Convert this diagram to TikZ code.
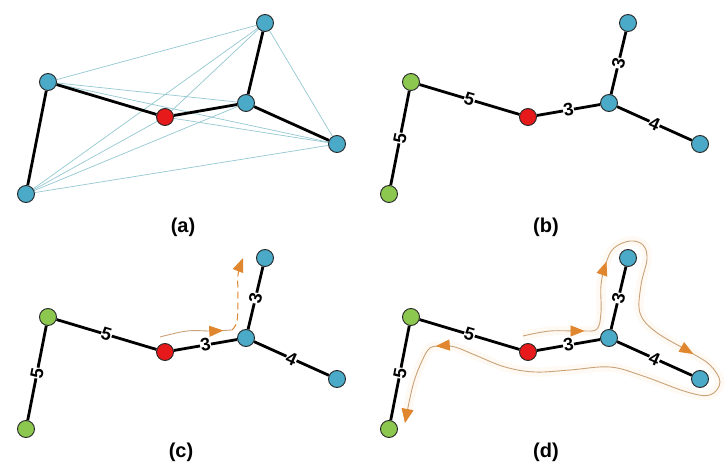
\documentclass[tikz,border=0pt]{standalone}
\usepackage{fontspec}
\setmainfont{Liberation Sans}
\usetikzlibrary{arrows.meta,decorations.markings}
\pgfdeclarelayer{bg}
\pgfsetlayers{bg,main}
\definecolor{nblue}{HTML}{4AAAC8}
\definecolor{ngreen}{HTML}{8CC850}
\definecolor{nred}{HTML}{E61A1A}
\definecolor{faint}{HTML}{94C8D2}
\definecolor{arr}{HTML}{E0862E}
\definecolor{trail}{HTML}{C9A27A}
\definecolor{halo}{HTML}{FEF9F2}
\tikzset{arrtip/.tip={Triangle[length=14pt,width=11pt,color=arr]}}
\newcommand\mknodes[2]{%
  \node[bv] (#1T) at (265,23) {};
  \node[#2] (#1L) at (48,82) {};
  \node[rv] (#1R) at (165,117) {};
  \node[bv] (#1M) at (246,103) {};
  \node[bv] (#1F) at (337,144) {};
  \node[#2] (#1B) at (26,194) {};}
\newcommand\wtree[1]{%
  \draw[tree] (#1L) -- node[wt]{5} (#1R);
  \draw[tree] (#1L) -- node[wt]{5} (#1B);
  \draw[tree] (#1R) -- node[wt]{3} (#1M);
  \draw[tree] (#1M) -- node[wt]{3} (#1T);
  \draw[tree] (#1M) -- node[wt]{4} (#1F);}
\begin{document}
\begin{tikzpicture}[x=1pt,y=-1pt,
  vtx/.style={circle,draw=black!85,line width=0.9pt,minimum size=17pt,inner sep=0pt},
  bv/.style={vtx,fill=nblue},
  gv/.style={vtx,fill=ngreen},
  rv/.style={vtx,fill=nred},
  tree/.style={line width=2.8pt,black},
  faintedge/.style={faint,line width=0.7pt},
  wt/.style={font=\fontsize{18}{18}\selectfont\bfseries,fill=white,inner sep=0.4pt,sloped,midway},
  captxt/.style={font=\fontsize{20}{20}\selectfont\bfseries},
  trailline/.style={trail,line width=0.9pt}]
\useasboundingbox (0,0) rectangle (726,473);
\begin{pgfonlayer}{bg}
  \fill[white] (0,0) rectangle (726,473);
\end{pgfonlayer}

% ---------- (a)
\mknodes{a}{bv}
\begin{pgfonlayer}{bg}
  \foreach \u/\v in {T/L,T/R,T/B,T/F,L/M,L/F,R/B,R/F,M/B,F/B}
    \draw[faintedge] (a\u) -- (a\v);
\end{pgfonlayer}
\draw[tree] (aL) -- (aR);
\draw[tree] (aL) -- (aB);
\draw[tree] (aR) -- (aM);
\draw[tree] (aM) -- (aT);
\draw[tree] (aM) -- (aF);
\node[captxt] (capa) at (183,227) {(a)};

% ---------- (b)
\begin{scope}[shift={(363,0)}]
  \mknodes{b}{gv}
  \wtree{b}
  \node[captxt] (capb) at (183,227) {(b)};
\end{scope}

% ---------- (c)
\begin{scope}[shift={(0,235)}]
  \mknodes{c}{gv}
  \wtree{c}
  \node[captxt] (capc) at (181,217) {(c)};
  \coordinate (cs) at (160,102);
  \coordinate (cm) at (232,95);
  \coordinate (ce) at (243,23);
  \draw[trailline,postaction={decorate},
    decoration={markings,mark=at position 64pt with {\arrow{arrtip}}}]
    plot[smooth,tension=0.6] coordinates {(cs) (187,96) (212,96) (cm)};
  \draw[arr,line width=1pt,dash pattern=on 7pt off 4pt,-{arrtip}]
    plot[smooth,tension=0.6] coordinates {(cm) (237,86) (238,60) (238,40) (ce)};
\end{scope}

% ---------- (d)
\begin{scope}[shift={(363,235)}]
  \mknodes{d}{gv}
  \wtree{d}
  \node[captxt] (capd) at (183,217) {(d)};
  \coordinate (ds) at (160,101);
  \coordinate (de) at (42,188);
  \begin{pgfonlayer}{bg}
  \draw[trailline,-{arrtip},
    preaction={draw=halo,line width=9pt},
    postaction={decorate},
    decoration={markings,
      mark=at position 62pt with {\arrow{arrtip}},
      mark=at position 144pt with {\arrow{arrtip}},
      mark=at position 330pt with {\arrow{arrtip}},
      mark=at position 671pt with {\arrow{arrtip}}}]
    plot[smooth,tension=0.6] coordinates {(ds) (187,96) (219,96) (234,94)
      (238,77) (238,50) (243,28) (251,13) (267,6) (280,10) (284,24)
      (278,50) (277,78) (293,97) (327,117) (347,130) (357,147) (347,160)
      (324,157) (280,141) (247,132) (207,135) (172,137) (142,132)
      (112,120) (92,112) (79,111) (67,113) (59,126) (50,150) (de)};
  \end{pgfonlayer}
\end{scope}
\end{tikzpicture}
\end{document}
